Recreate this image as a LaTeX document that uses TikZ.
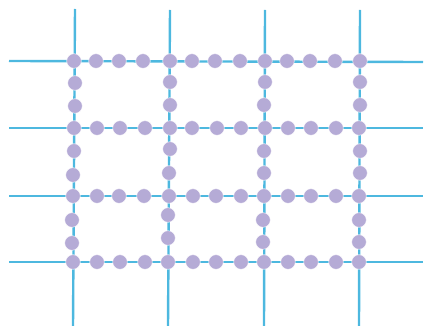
\documentclass[tikz,border=0pt]{standalone}
\begin{document}
\begin{tikzpicture}[x=1pt,y=-1pt,
  gridline/.style={draw=lineblue,line width=2.4pt},
  bead/.style={circle,fill=beadpurple,inner sep=0pt,minimum size=14.6pt,draw=white,line width=0.4pt}]
\definecolor{lineblue}{HTML}{4DB8DF}
\definecolor{beadpurple}{HTML}{B5ABD6}
\useasboundingbox (0,0) rectangle (424,326);
% line end points
\coordinate (vt1) at (75,9);  \coordinate (vb1) at (73,327);
\coordinate (vt2) at (170,10); \coordinate (vb2) at (168,327);
\coordinate (vt3) at (265,10); \coordinate (vb3) at (264,327);
\coordinate (vt4) at (360,10); \coordinate (vb4) at (359,327);
\coordinate (hl1) at (9,61);  \coordinate (hr1) at (423,62);
\coordinate (hl2) at (9,128); \coordinate (hr2) at (423,128);
\coordinate (hl3) at (9,196); \coordinate (hr3) at (423,196);
\coordinate (hl4) at (9,262); \coordinate (hr4) at (423,262);
\foreach \i in {1,2,3,4}{
  \draw[gridline] (vt\i) -- (vb\i);
  \draw[gridline] (hl\i) -- (hr\i);
}
% row beads
\foreach \x [count=\k] in {74,96,119,143,170,192,215,240,265,287,310,335,360}
  \node[bead] (ra\k) at (\x,61) {};
\foreach \x [count=\k] in {74,97,120,145,170,192,217,241,265,288,311,336,359}
  \node[bead] (rb\k) at (\x,128) {};
\foreach \x [count=\k] in {73,97,119,144,169,193,216,241,264,288,311,336,359}
  \node[bead] (rc\k) at (\x,196) {};
\foreach \x [count=\k] in {73,97,120,145,168,193,216,241,264,288,311,336,359}
  \node[bead] (rd\k) at (\x,262) {};
% column beads
\foreach \p [count=\k] in {(75,83),(75,106),(74,151),(73,175),(72,220),(72,243)}
  \node[bead] (ca\k) at \p {};
\foreach \p [count=\k] in {(170,82),(170,105),(170,149),(169,173),(168,215),(168,238)}
  \node[bead] (cb\k) at \p {};
\foreach \p [count=\k] in {(265,82),(264,105),(264,151),(264,173),(263,220),(263,242)}
  \node[bead] (cc\k) at \p {};
\foreach \p [count=\k] in {(360,82),(360,105),(360,151),(360,173),(359,220),(359,242)}
  \node[bead] (cd\k) at \p {};
\end{tikzpicture}
\end{document}
